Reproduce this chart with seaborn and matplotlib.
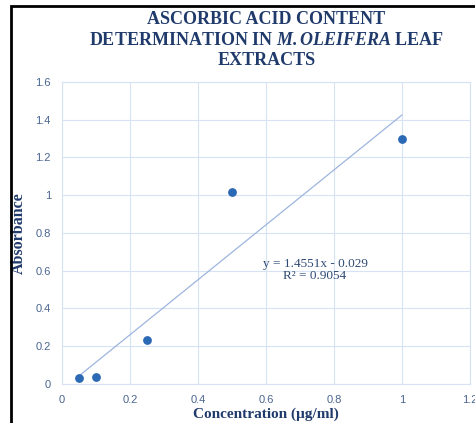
import pandas as pd
import seaborn as sns
import matplotlib.pyplot as plt
from matplotlib.patches import Rectangle

# concentration (ug/ml) vs absorbance
concentration = [0.05, 0.1, 0.25, 0.5, 1.0]
absorbance = [0.03, 0.035, 0.235, 1.015, 1.3]
x_ticks = [0, 0.2, 0.4, 0.6, 0.8, 1, 1.2]
y_ticks = [0, 0.2, 0.4, 0.6, 0.8, 1, 1.2, 1.4, 1.6]

navy = "#1F3A6B"
tick_col = "#4A6590"
grid_col = "#D7E2F2"

sns.set_style("white")
plt.rcParams["font.family"] = ["Liberation Sans", "DejaVu Sans"]
plt.rcParams["mathtext.fontset"] = "custom"
plt.rcParams["mathtext.rm"] = "Liberation Serif"
plt.rcParams["mathtext.bf"] = "Liberation Serif:bold"
plt.rcParams["mathtext.it"] = "Liberation Serif:italic"
plt.rcParams["mathtext.bfit"] = "Liberation Serif:italic:bold"

df = pd.DataFrame({"conc": concentration, "abs": absorbance})

fig = plt.figure(figsize=(4.75, 4.23), dpi=100)
ax = fig.add_axes([0.1305, 0.0922, 0.859, 0.714])

sns.regplot(data=df, x="conc", y="abs", ax=ax, ci=None, truncate=True,
            scatter_kws={"s": 40, "color": "#2C69B5", "linewidths": 0, "alpha": 1, "zorder": 3},
            line_kws={"color": "#9DB5DE", "linewidth": 0.9, "zorder": 2})

ax.set_xlim(0, 1.2)
ax.set_ylim(0, 1.6)
ax.set_xticks(x_ticks)
ax.set_yticks(y_ticks)
ax.set_xticklabels([f"{t:g}" for t in x_ticks])
ax.set_yticklabels([f"{t:g}" for t in y_ticks])
ax.tick_params(colors=tick_col, labelsize=8, length=0, pad=8)
ax.grid(True, color=grid_col, linewidth=0.8)
ax.set_axisbelow(True)
for s in ax.spines.values():
    s.set_color(grid_col)
    s.set_linewidth(0.8)

ax.set_xlabel("Concentration (µg/ml)", family="Liberation Serif", fontweight="bold",
              fontsize=11, color=navy, labelpad=2)
ax.set_ylabel("Absorbance", family="Liberation Serif", fontweight="bold",
              fontsize=11.5, color=navy)
ax.yaxis.set_label_coords(-0.085, 0.5)

ax.text(0.744, 0.605, "y = 1.4551x - 0.029\nR² = 0.9054", ha="center", va="center",
        family="Liberation Serif", fontsize=9.5, color="#2F4A75", linespacing=1.0)

title_kw = dict(ha="center", va="center", family="Liberation Serif",
                fontweight="bold", fontsize=13, color=navy)
fig.text(0.561, 0.953, "ASCORBIC ACID CONTENT", **title_kw)
fig.text(0.561, 0.905, "DETERMINATION IN $\\mathbfit{M{.}OLEIFERA}$ LEAF", **title_kw)
fig.text(0.561, 0.857, "EXTRACTS", **title_kw)

# black frame around the chart
fig.patches.append(Rectangle((0.023, -0.1), 1.2, 1.086, transform=fig.transFigure,
                             fill=False, edgecolor="black", linewidth=2))

plt.savefig("out.png", dpi=100)
